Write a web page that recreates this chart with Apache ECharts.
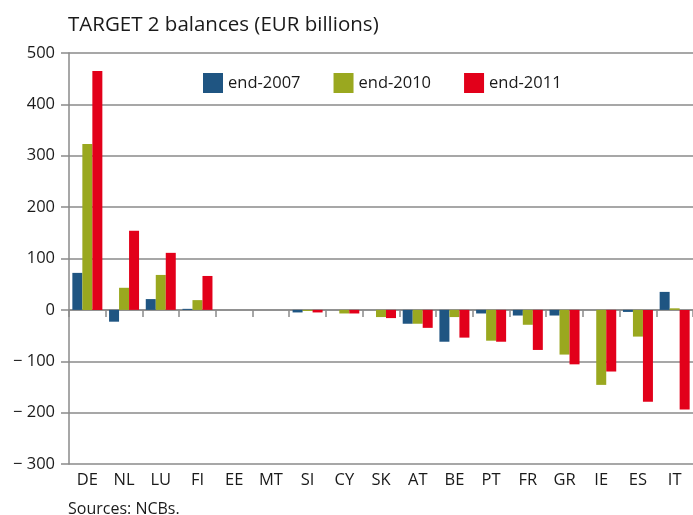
<!DOCTYPE html>
<html>
<head>
<meta charset="utf-8">
<script src="https://cdn.jsdelivr.net/npm/echarts@6/dist/echarts.min.js"></script>
<style>
  html, body { margin: 0; padding: 0; background: #fff; }
  #chart { width: 693px; height: 515px; }
</style>
</head>
<body>
<div id="chart"></div>
<script>
// country codes along the x axis
var countries = ['DE', 'NL', 'LU', 'FI', 'EE', 'MT', 'SI', 'CY', 'SK', 'AT', 'BE', 'PT', 'FR', 'GR', 'IE', 'ES', 'IT']
// balances, EUR billions
var end2007 = [72, -23, 21, 2, 0, 0, -5, 0, 0, -27, -62, -7, -11, -11, 0, -4, 35]
var end2010 = [323, 43, 68, 19, 0, 0, -2, -7, -14, -27, -14, -60, -29, -87, -146, -52, 3]
var end2011 = [465, 154, 111, 66, 0, 0, -5, -7, -16, -35, -54, -62, -78, -106, -120, -179, -194]
var yTicks = [-300, -200, -100, 0, 100, 200, 300, 400, 500]

var fontFam = '"Open Sans", "Noto Sans", sans-serif'
var gray = '#8a8a8a'

var chart = echarts.init(document.getElementById('chart'))
var option = {
  animation: false,
  color: ['#1f5582', '#9aa81f', '#e2001a'],
  textStyle: { fontFamily: fontFam },
  title: [
    {
      text: 'TARGET 2 balances (EUR billions)',
      left: 63, top: 10,
      textStyle: { fontSize: 20.5, fontWeight: 'normal', color: '#1a1a1a', fontFamily: fontFam }
    },
    {
      text: 'Sources: NCBs.',
      left: 63, top: 496,
      textStyle: { fontSize: 16, fontWeight: 'normal', color: '#1a1a1a', fontFamily: fontFam }
    }
  ],
  legend: {
    left: 198, top: 68,
    itemWidth: 20, itemHeight: 20,
    itemGap: 33,
    icon: 'rect',
    textStyle: { fontSize: 16.5, color: '#1a1a1a', fontFamily: fontFam },
    data: ['end-2007', 'end-2010', 'end-2011']
  },
  grid: { left: 69, top: 53, width: 631, height: 411 },
  xAxis: [
    {
      type: 'category',
      data: countries,
      axisLine: { onZero: true, lineStyle: { color: gray, width: 1.5 } },
      axisTick: { show: true, length: 7, lineStyle: { color: gray, width: 1.5 } },
      axisLabel: { show: false }
    },
    {
      type: 'category',
      data: countries,
      position: 'bottom',
      axisLine: { show: false },
      axisTick: { show: false },
      axisLabel: { fontSize: 16.5, color: '#1a1a1a', margin: 8, fontFamily: fontFam }
    }
  ],
  yAxis: {
    type: 'value',
    min: yTicks[0],
    max: yTicks[yTicks.length - 1],
    interval: 100,
    axisLine: { show: true, lineStyle: { color: gray, width: 1.5 } },
    axisTick: { show: true, length: 8, lineStyle: { color: gray, width: 1.5 } },
    splitLine: { lineStyle: { color: gray, width: 1.5 } },
    axisLabel: {
      fontSize: 16.5, color: '#1a1a1a', margin: 14, fontFamily: fontFam,
      formatter: function (v) { return v < 0 ? '\u2212 ' + (-v) : String(v) }
    }
  },
  series: [
    { name: 'end-2007', type: 'bar', data: end2007, barWidth: 10, barGap: '0%' },
    { name: 'end-2010', type: 'bar', data: end2010, barWidth: 10, barGap: '0%' },
    { name: 'end-2011', type: 'bar', data: end2011, barWidth: 10, barGap: '0%' }
  ]
}
chart.setOption(option)
</script>
</body>
</html>
